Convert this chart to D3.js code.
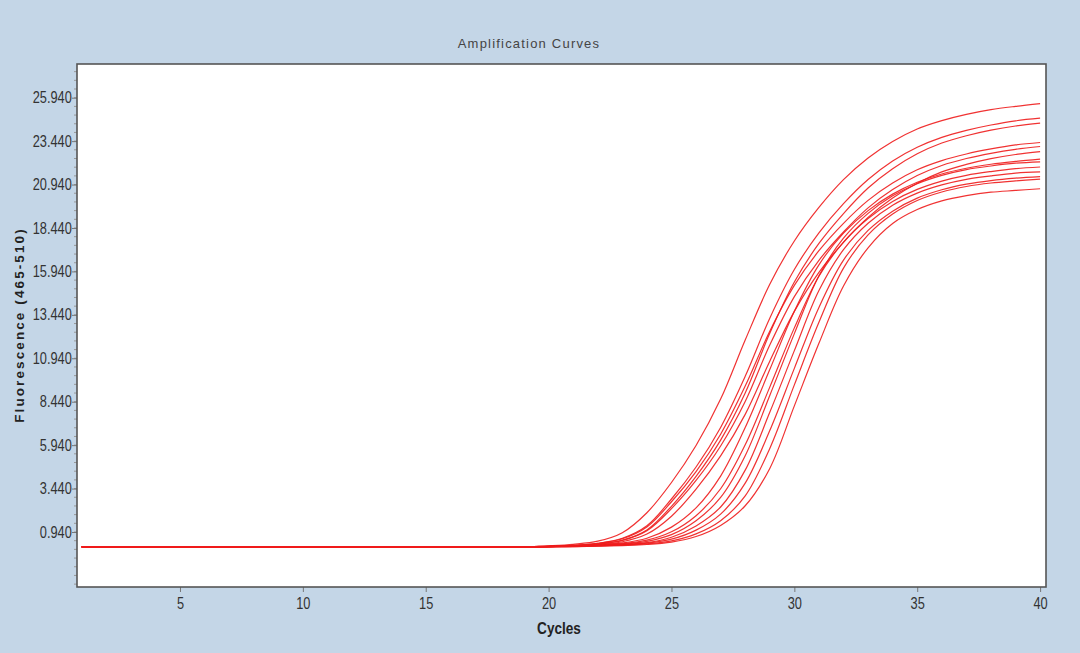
<!DOCTYPE html>
<html>
<head>
<meta charset="utf-8">
<script src="https://cdn.jsdelivr.net/npm/d3@7"></script>
<style>
  html, body { margin: 0; padding: 0; background: #c4d6e7; }
  svg { display: block; }
</style>
</head>
<body>
<script>
// cycle numbers
const cycles = d3.range(1, 41);

// fluorescence per well, cycles 1..40
const base19 = [0.08,0.08,0.08,0.08,0.08,0.08,0.08,0.08,0.08,0.08,0.08,0.08,0.08,0.08,0.08,0.08,0.08,0.08,0.08];
const well01 = base19.concat([0.14,0.23,0.41,0.90,2.05,3.79,5.92,8.59,11.99,15.20,17.69,19.62,21.22,22.47,23.42,24.14,24.62,24.98,25.25,25.44,25.60]);
const well02 = base19.concat([0.13,0.17,0.29,0.58,1.30,2.84,4.68,6.96,9.90,13.25,16.05,18.16,19.84,21.23,22.30,23.09,23.66,24.06,24.37,24.61,24.76]);
const well03 = base19.concat([0.10,0.15,0.25,0.47,1.06,2.42,4.14,6.23,8.94,12.38,15.33,17.55,19.27,20.74,21.85,22.71,23.33,23.75,24.07,24.31,24.48]);
const well04 = base19.concat([0.13,0.17,0.28,0.55,1.23,2.68,4.42,6.57,9.34,12.50,15.14,17.13,18.71,20.03,21.03,21.79,22.32,22.70,22.99,23.22,23.36]);
const well05 = base19.concat([0.10,0.15,0.24,0.45,1.01,2.29,3.91,5.89,8.45,11.70,14.49,16.58,18.21,19.60,20.65,21.46,22.04,22.44,22.74,22.97,23.13]);
const well06 = base19.concat([0.10,0.14,0.21,0.38,0.82,1.85,3.41,5.32,7.71,10.77,13.64,15.89,17.61,19.05,20.17,21.02,21.67,22.10,22.43,22.67,22.84]);
const well07 = base19.concat([0.10,0.14,0.20,0.31,0.58,1.22,2.33,4.16,6.95,10.29,13.65,16.32,18.14,19.44,20.39,21.07,21.55,21.88,22.11,22.27,22.40]);
const well08 = base19.concat([0.09,0.13,0.18,0.27,0.47,0.95,1.88,3.43,5.96,9.28,12.69,15.66,17.63,18.99,19.97,20.66,21.14,21.47,21.69,21.86,21.95]);
const well09 = base19.concat([0.09,0.12,0.17,0.24,0.40,0.79,1.59,2.93,5.33,8.80,12.36,15.69,17.85,19.28,20.29,20.99,21.47,21.80,22.01,22.17,22.25]);
const well10 = base19.concat([0.09,0.11,0.16,0.22,0.33,0.64,1.29,2.38,4.50,7.83,11.38,14.84,17.19,18.71,19.75,20.45,20.92,21.24,21.44,21.60,21.67]);
const well11 = base19.concat([0.09,0.11,0.15,0.20,0.30,0.53,1.05,1.97,3.75,6.78,10.36,13.87,16.59,18.30,19.41,20.16,20.64,20.96,21.17,21.31,21.40]);
const well12 = base19.concat([0.09,0.10,0.14,0.19,0.26,0.43,0.83,1.59,3.02,5.75,9.41,13.01,16.13,18.04,19.24,20.02,20.51,20.83,21.03,21.15,21.25]);
const well13 = base19.concat([0.09,0.10,0.12,0.16,0.22,0.36,0.68,1.32,2.45,4.60,8.20,11.80,15.10,17.30,18.70,19.50,20.00,20.30,20.50,20.60,20.70]);
const wells = [well01, well02, well03, well04, well05, well06, well07, well08, well09, well10, well11, well12, well13];

// axis ticks
const xTicks = [5, 10, 15, 20, 25, 30, 35, 40];
const yTicks = [0.94, 3.44, 5.94, 8.44, 10.94, 13.44, 15.94, 18.44, 20.94, 23.44, 25.94];

const width = 1080;
const height = 653;
const plot = { left: 77, right: 1046, top: 64, bottom: 587 };

const svg = d3.select("body").append("svg").attr("width", width).attr("height", height);

const x = d3.scaleLinear().domain([0.81, 40.24]).range([plot.left, plot.right]);
const y = d3.scaleLinear().domain([-2.226, 27.88]).range([plot.bottom, plot.top]);

// plot background
svg.append("rect")
  .attr("x", plot.left)
  .attr("y", plot.top)
  .attr("width", plot.right - plot.left)
  .attr("height", plot.bottom - plot.top)
  .attr("fill", "#fff");

// title
svg.append("text")
  .attr("x", 529)
  .attr("y", 48)
  .attr("text-anchor", "middle")
  .attr("font-family", "'Liberation Sans', Arial, sans-serif")
  .attr("font-size", 13)
  .attr("letter-spacing", 1.2)
  .attr("fill", "#444")
  .text("Amplification Curves");

// curves
const line = d3.line()
  .x((d, i) => x(cycles[i]))
  .y((d) => y(d))
  .curve(d3.curveCatmullRom.alpha(0.5));

svg.append("g")
  .selectAll("path")
  .data(wells)
  .join("path")
  .attr("fill", "none")
  .attr("stroke", "#ee1c1c")
  .attr("stroke-width", 1.2)
  .attr("stroke-opacity", 0.9)
  .attr("d", line);

// axes (labels drawn condensed, like the instrument software)
const font = "'Liberation Sans', Arial, sans-serif";

const xAxis = svg.append("g")
  .attr("transform", `translate(0, ${plot.bottom})`)
  .call(d3.axisBottom(x).tickValues(xTicks).tickSize(5).tickFormat(d3.format("d")));
xAxis.select(".domain").remove();
xAxis.selectAll("line").attr("stroke", "#777");
xAxis.selectAll("text")
  .attr("y", 11)
  .attr("transform", "scale(0.8,1)")
  .attr("font-family", font)
  .attr("font-size", 16)
  .attr("fill", "#333");

const yMinor = d3.range(-2.06, 27.6, 0.5);
svg.append("g")
  .attr("transform", `translate(${plot.left}, 0)`)
  .selectAll("line")
  .data(yMinor)
  .join("line")
  .attr("x1", -3)
  .attr("x2", 0)
  .attr("y1", (d) => y(d))
  .attr("y2", (d) => y(d))
  .attr("stroke", "#999");

const yAxis = svg.append("g")
  .attr("transform", `translate(${plot.left}, 0)`)
  .call(d3.axisLeft(y).tickValues(yTicks).tickSize(5).tickFormat(d3.format(".3f")));
yAxis.select(".domain").remove();
yAxis.selectAll("line").attr("stroke", "#777");
yAxis.selectAll("text")
  .attr("x", -6.5)
  .attr("transform", "scale(0.8,1)")
  .attr("font-family", font)
  .attr("font-size", 16)
  .attr("fill", "#333");

// frame
svg.append("rect")
  .attr("x", plot.left)
  .attr("y", plot.top)
  .attr("width", plot.right - plot.left)
  .attr("height", plot.bottom - plot.top)
  .attr("fill", "none")
  .attr("stroke", "#555")
  .attr("stroke-width", 1.6);

// axis titles
svg.append("g")
  .attr("transform", "translate(559, 634) scale(0.85,1)")
  .append("text")
  .attr("text-anchor", "middle")
  .attr("font-family", font)
  .attr("font-weight", "bold")
  .attr("font-size", 16)
  .attr("fill", "#222")
  .text("Cycles");

svg.append("text")
  .attr("transform", "translate(24, 325) rotate(-90)")
  .attr("text-anchor", "middle")
  .attr("font-family", font)
  .attr("font-weight", "bold")
  .attr("font-size", 13.5)
  .attr("letter-spacing", 2.1)
  .attr("fill", "#222")
  .text("Fluorescence (465-510)");
</script>
</body>
</html>
